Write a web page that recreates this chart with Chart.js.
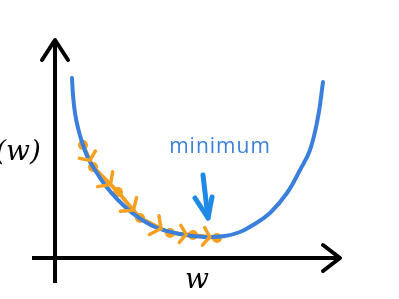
<!DOCTYPE html>
<html>
<head>
<meta charset="utf-8">
<script src="https://cdn.jsdelivr.net/npm/chart.js@4/dist/chart.umd.min.js"></script>
<style>
  body { margin: 0; background: #fff; }
  #wrap { width: 399px; height: 299px; }
</style>
</head>
<body>
<div id="wrap"><canvas id="chart"></canvas></div>
<script>
// cost curve J(w) (w across, J up)
const curveW = [1.7, 1.8, 2.0, 2.3, 2.7, 3.3, 4.0, 5.0, 6.3, 8.0, 10.0, 12.5, 15.0, 17.0, 18.5, 19.8, 21.5, 23.2, 24.5, 25.5, 26.3, 26.8];
const curveJ = [18.0, 16.3, 14.5, 13.0, 11.6, 10.0, 8.8, 7.3, 5.8, 4.3, 3.1, 2.4, 2.1, 2.2, 2.6, 3.3, 4.5, 6.5, 8.8, 10.8, 14.1, 17.6];

// gradient descent steps (orange)
const stepW = [2.8, 3.8, 6.3, 8.5, 11.5, 13.8, 16.2];
const stepJ = [11.3, 9.1, 6.6, 4.0, 2.5, 2.3, 2.0];

// hand drawn axes with arrow heads
const yAxisW = [0, 0];
const yAxisJ = [-2.5, 21.8];
const yHeadW = [-1.3, 0, 1.3];
const yHeadJ = [19.8, 21.8, 19.8];
const xAxisW = [-2.3, 28.5];
const xAxisJ = [0, 0];
const xHeadW = [26.8, 28.5, 26.8];
const xHeadJ = [1.3, 0, -1.3];

// little arrow pointing at the minimum
const minArrowW = [14.8, 15.3];
const minArrowJ = [8.3, 4.0];
const minHeadW = [14.0, 15.3, 15.7];
const minHeadJ = [6.0, 4.0, 6.1];

const labels = [
    { text: "minimum", w: 16.5, j: 10.5, font: '21px "Open Sans"', color: "#3b82d6", align: "center", spacing: "1px" },
    { text: "w", w: 14.2, j: -3.0, font: 'italic 28px "DejaVu Serif"', color: "#000", align: "center", spacing: "0px" },
    { text: "J(w)", w: -1.4, j: 9.8, font: 'italic 28px "DejaVu Serif"', color: "#000", align: "right", spacing: "0px" }
];

function pts(ws, js) {
    return ws.map((w, i) => ({ x: w, y: js[i] }));
}

function lineSet(ws, js, color, width, extra) {
    return Object.assign({
        data: pts(ws, js),
        showLine: true,
        borderColor: color,
        backgroundColor: color,
        borderWidth: width,
        pointRadius: 0,
        borderCapStyle: "round",
        borderJoinStyle: "round",
        tension: 0
    }, extra || {});
}

// chevrons on each step + text labels
const sketchPlugin = {
    id: "sketch",
    afterDatasetsDraw(chart) {
        const ctx = chart.ctx;
        const xs = chart.scales.x;
        const ys = chart.scales.y;
        ctx.save();
        ctx.strokeStyle = "#f4a020";
        ctx.lineWidth = 3.5;
        ctx.lineCap = "round";
        for (let i = 0; i < stepW.length - 1; i++) {
            const x0 = xs.getPixelForValue(stepW[i]), y0 = ys.getPixelForValue(stepJ[i]);
            const x1 = xs.getPixelForValue(stepW[i + 1]), y1 = ys.getPixelForValue(stepJ[i + 1]);
            const len = Math.hypot(x1 - x0, y1 - y0);
            const ang = Math.atan2(y1 - y0, x1 - x0);
            const tx = x0 + (x1 - x0) * 0.7, ty = y0 + (y1 - y0) * 0.7;
            const arm = Math.min(13, len * 0.45);
            ctx.beginPath();
            ctx.moveTo(tx - arm * Math.cos(ang - 0.95), ty - arm * Math.sin(ang - 0.95));
            ctx.lineTo(tx, ty);
            ctx.lineTo(tx - arm * Math.cos(ang + 0.95), ty - arm * Math.sin(ang + 0.95));
            ctx.stroke();
        }
        labels.forEach(l => {
            ctx.font = l.font;
            ctx.fillStyle = l.color;
            ctx.textAlign = l.align;
            ctx.textBaseline = "alphabetic";
            ctx.letterSpacing = l.spacing;
            ctx.fillText(l.text, xs.getPixelForValue(l.w), ys.getPixelForValue(l.j));
        });
        ctx.restore();
    }
};

new Chart(document.getElementById("chart"), {
    type: "scatter",
    data: {
        datasets: [
            lineSet(yAxisW, yAxisJ, "#000", 4, { borderCapStyle: "butt" }),
            lineSet(yHeadW, yHeadJ, "#000", 4),
            lineSet(xAxisW, xAxisJ, "#000", 4, { borderCapStyle: "butt" }),
            lineSet(xHeadW, xHeadJ, "#000", 4),
            lineSet(curveW, curveJ, "#3a7fdc", 4, { tension: 0.4 }),
            lineSet(stepW, stepJ, "#f4a020", 4, { pointRadius: 5, pointBackgroundColor: "#f4a020", pointBorderWidth: 0 }),
            lineSet(minArrowW, minArrowJ, "#1e8ae6", 5),
            lineSet(minHeadW, minHeadJ, "#1e8ae6", 5)
        ]
    },
    options: {
        responsive: true,
        maintainAspectRatio: false,
        animation: false,
        layout: { padding: 0, autoPadding: false },
        plugins: { legend: { display: false }, tooltip: { enabled: false } },
        scales: {
            x: { type: "linear", min: -5.5, max: 34.4, display: false },
            y: { type: "linear", min: -4.1, max: 25.8, display: false }
        }
    },
    plugins: [sketchPlugin]
});
</script>
</body>
</html>
